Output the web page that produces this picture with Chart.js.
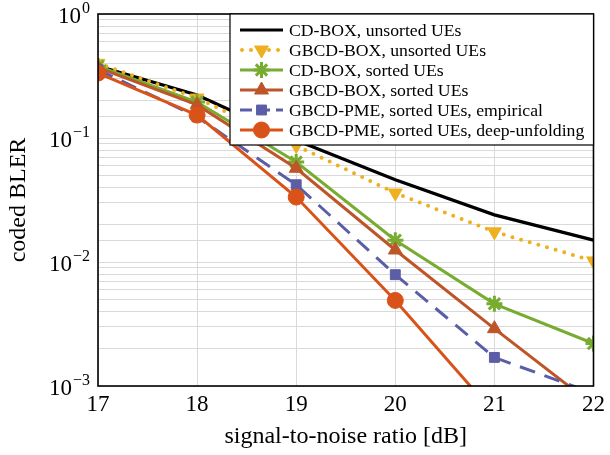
<!DOCTYPE html>
<html>
<head>
<meta charset="utf-8">
<script src="https://cdn.jsdelivr.net/npm/chart.js@4.4.0/dist/chart.umd.min.js"></script>
<style>
  html, body { margin: 0; padding: 0; background: #fff; }
  #wrap { width: 610px; height: 455px; }
</style>
</head>
<body>
<div id="wrap"><canvas id="myChart"></canvas></div>
<script>
// snr in dB, values are coded BLER
let snr = [17, 18, 19, 20, 21, 22];
let cdBoxUnsorted = [0.38, 0.222, 0.096, 0.046, 0.024, 0.015];
let gbcdBoxUnsorted = [0.40, 0.21, 0.087, 0.036, 0.0175, 0.0102];
let cdBoxSorted = [0.38, 0.195, 0.064, 0.015, 0.0046, 0.0022];
let gbcdBoxSorted = [0.37, 0.185, 0.057, 0.0125, 0.0029, 0.0007];
let gbcdPmeEmpirical = [0.355, 0.148, 0.042, 0.0079, 0.0017, 0.00087];
let gbcdPmeDeep = [0.334, 0.153, 0.0334, 0.0049, 0.0006, null];
let yTickExps = [0, -1, -2, -3];

const serif = "'Liberation Serif', 'DejaVu Serif', serif";

function pts(vals) {
  return vals.map((v, i) => ({ x: snr[i], y: v }));
}

const series = [
  { label: "CD-BOX, unsorted UEs", data: cdBoxUnsorted, color: "#000000", style: false, width: 3.2 },
  { label: "GBCD-BOX, unsorted UEs", data: gbcdBoxUnsorted, color: "#EDB120", style: "triangle", rot: 180, r: 8, dash: [0, 9], width: 4 },
  { label: "CD-BOX, sorted UEs", data: cdBoxSorted, color: "#77AC30", style: "star", r: 8, width: 3 },
  { label: "GBCD-BOX, sorted UEs", data: gbcdBoxSorted, color: "#BE5529", style: "triangle", r: 8, width: 3 },
  { label: "GBCD-PME, sorted UEs, empirical", data: gbcdPmeEmpirical, color: "#5B5EA6", style: "rect", r: 7, dash: [16, 10], width: 3 },
  { label: "GBCD-PME, sorted UEs, deep-unfolding", data: gbcdPmeDeep, color: "#D95319", style: "circle", r: 8, width: 3 }
];

const datasets = series.map((s, i) => ({
  label: s.label,
  data: pts(s.data),
  borderColor: s.color,
  backgroundColor: s.color,
  borderWidth: s.width,
  borderDash: s.dash || [],
  borderCapStyle: s.dash && s.dash[0] === 0 ? "round" : "butt",
  pointStyle: s.style,
  pointRotation: s.rot || 0,
  pointRadius: s.style ? s.r : 0,
  pointBorderWidth: s.style === "star" ? 3 : 1,
  pointBackgroundColor: s.color,
  pointBorderColor: s.color,
  tension: 0,
  order: series.length - i
}));

const framePlugin = {
  id: "frame",
  afterDraw(chart) {
    const ctx = chart.ctx;
    const a = chart.chartArea;
    const ys = chart.scales.y;
    ctx.save();
    // y tick labels with superscripts
    ctx.fillStyle = "#000";
    ctx.textBaseline = "alphabetic";
    yTickExps.forEach(e => {
      const py = ys.getPixelForValue(Math.pow(10, e));
      const ex = e < 0 ? "\u2212" + (-e) : String(e);
      ctx.font = "16px " + serif;
      const ew = ctx.measureText(ex).width;
      const right = a.left - 8;
      ctx.textAlign = "right";
      ctx.fillText(ex, right, py - 1);
      ctx.font = "23px " + serif;
      ctx.fillText("10", right - ew - 1, py + 9);
    });
    ctx.strokeStyle = "#000";
    ctx.lineWidth = 1.6;
    ctx.strokeRect(a.left, a.top, a.right - a.left, a.bottom - a.top);

    // legend box in upper right
    const bx = a.left + 132, by = a.top, bw = a.right - bx, bh = 131;
    ctx.fillStyle = "#fff";
    ctx.fillRect(bx, by, bw, bh);
    ctx.lineWidth = 1.2;
    ctx.strokeRect(bx, by, bw, bh);
    series.forEach((s, i) => {
      const cy = by + 16 + i * 20;
      const x0 = bx + 10, x1 = bx + 53;
      ctx.beginPath();
      ctx.strokeStyle = s.color;
      ctx.lineWidth = s.width;
      ctx.setLineDash(s.dash ? (s.dash[0] === 0 ? [0, 9] : [12, 6]) : []);
      ctx.lineCap = s.dash && s.dash[0] === 0 ? "round" : "butt";
      ctx.moveTo(s.dash && s.dash[0] === 0 ? x0 + 2 : x0, cy);
      ctx.lineTo(x1, cy);
      ctx.stroke();
      ctx.setLineDash([]);
      ctx.lineCap = "butt";
      if (s.style) {
        ctx.fillStyle = s.color;
        ctx.strokeStyle = s.color;
        ctx.lineWidth = s.style === "star" ? 3 : 1;
        Chart.helpers.drawPoint(ctx, {
          pointStyle: s.style, radius: s.r, rotation: s.rot || 0,
          borderWidth: s.style === "star" ? 3 : 1
        }, (x0 + x1) / 2, cy);
      }
      ctx.fillStyle = "#000";
      ctx.font = "17.7px " + serif;
      ctx.textAlign = "left";
      ctx.textBaseline = "middle";
      ctx.fillText(s.label, x1 + 6, cy + 1);
    });
    ctx.restore();
  }
};

new Chart(document.getElementById("myChart"), {
  type: "line",
  data: { datasets: datasets },
  options: {
    responsive: true,
    maintainAspectRatio: false,
    animation: false,
    layout: { padding: { top: 14, right: 15, left: 0, bottom: 0 } },
    plugins: { legend: { display: false }, tooltip: { enabled: false } },
    scales: {
      x: {
        type: "linear",
        min: 17,
        max: 22,
        ticks: { stepSize: 1, color: "#000", font: { family: serif, size: 23 }, padding: 5 },
        grid: { color: "#d9d9d9", lineWidth: 1, drawTicks: false },
        border: { display: false },
        title: { display: true, text: "signal-to-noise ratio [dB]", color: "#000", font: { family: serif, size: 24 }, padding: { top: 0 } },
        afterFit(scale) { scale.height = 69; }
      },
      y: {
        type: "logarithmic",
        min: 0.001,
        max: 1,
        ticks: { autoSkip: false, callback: () => "", font: { size: 1 } },
        grid: { color: "#d9d9d9", lineWidth: 1, drawTicks: false },
        border: { display: false },
        title: { display: true, text: "coded BLER", color: "#000", font: { family: serif, size: 24 }, padding: { bottom: 0, top: 4 } },
        afterFit(scale) { scale.width = 98; }
      }
    }
  },
  plugins: [framePlugin]
});
</script>
</body>
</html>
